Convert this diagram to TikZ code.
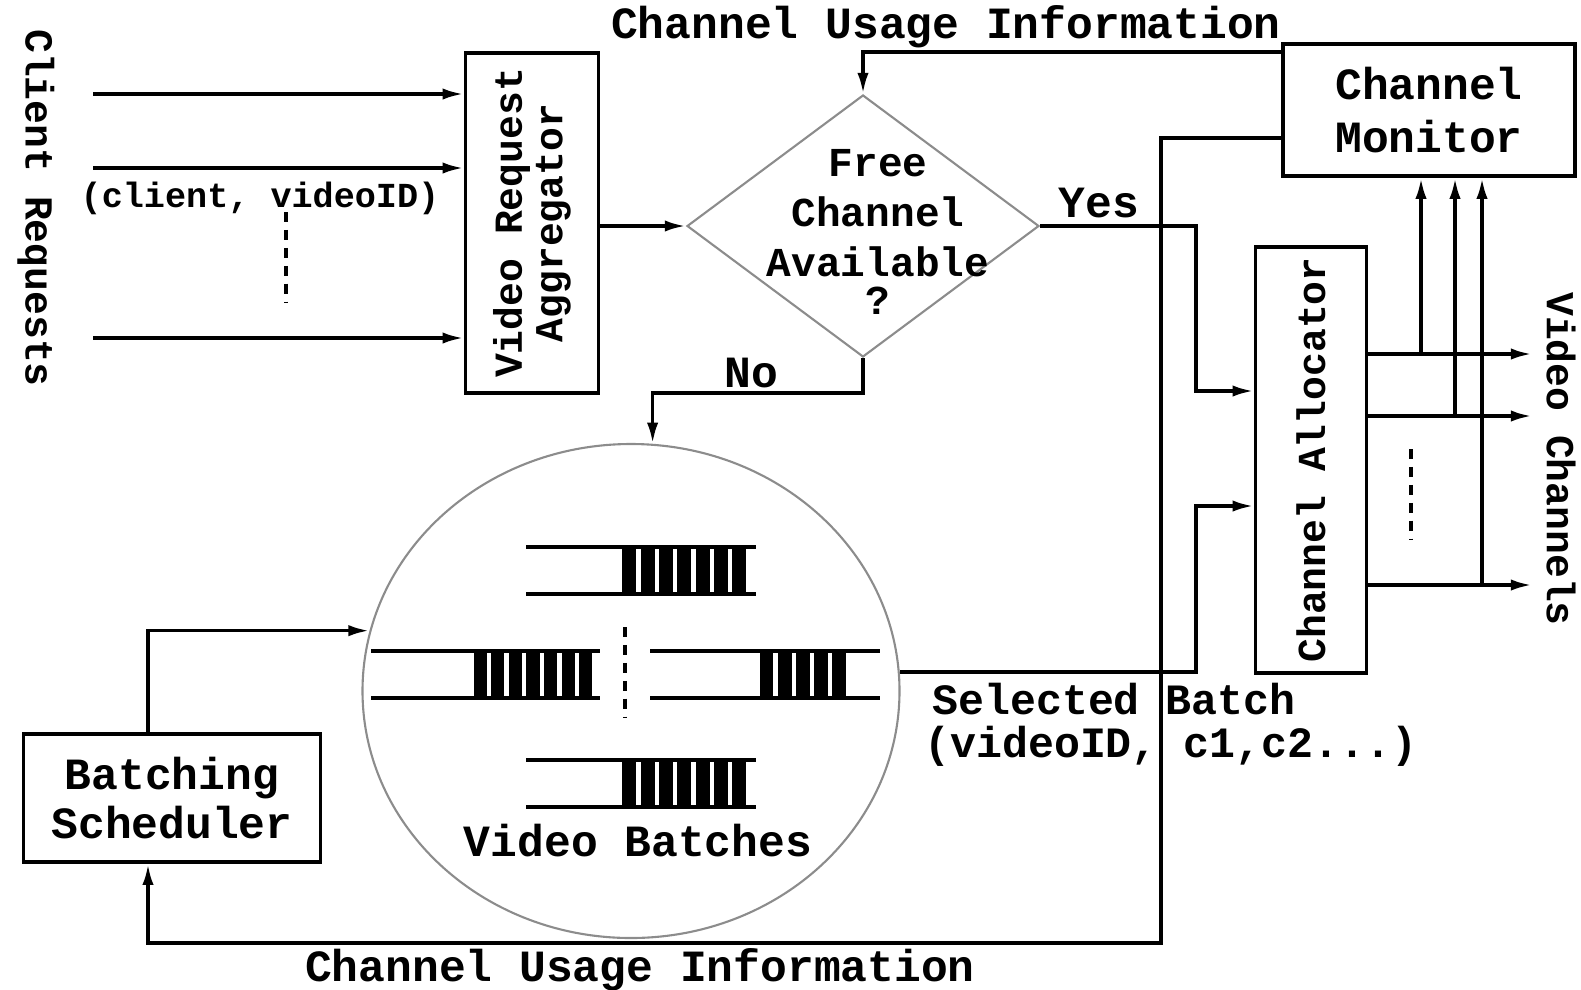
\documentclass[tikz,border=0pt]{standalone}
\usepackage{fontspec}
\setmonofont{Liberation Mono}
\usetikzlibrary{arrows.meta,calc,shapes.geometric}

\tikzset{
  lab/.style={font=\ttfamily\bfseries\fontsize{12.7}{14}\selectfont},
  small/.style={font=\ttfamily\bfseries\fontsize{10}{12}\selectfont},
  sidelab/.style={font=\ttfamily\bfseries\fontsize{11.3}{11.5}\selectfont},
  dialab/.style={font=\ttfamily\bfseries\fontsize{11.7}{14.2}\selectfont},
  blk/.style={draw, line width=1pt, inner sep=0pt},
  gshape/.style={draw=black!45, line width=0.6pt, inner sep=0pt},
  flow/.style={line width=1pt, -{Latex[length=6pt,width=3.2pt]}},
  wire/.style={line width=1pt},
  dots/.style={line width=1.1pt, dash pattern=on 2.8pt off 2.3pt},
}

\begin{document}
\begin{tikzpicture}[x=0.1mm, y=-0.1mm]
    \useasboundingbox (0,0) rectangle (1581,989);

    % Blocks
    \node[blk, minimum width=13.3mm, minimum height=34mm] (vra) at (532,223) {};
    \node[sidelab, rotate=90, align=center] (vratxt) at (vra) {Video Request\\Aggregator};
    \node[diamond, gshape, minimum width=35.2mm, minimum height=26.2mm] (dia) at (863,226) {};
    \node[dialab, align=center] (diatxt) at (878,232) {Free\\Channel\\Available\\[-3.4pt]?};
    \node[blk, lab, align=center, minimum width=29.2mm, minimum height=13.2mm,
          font=\ttfamily\bfseries\fontsize{12.7}{15}\selectfont] (cm) at (1429,110) {Channel\\Monitor};
    \node[blk, minimum width=11.1mm, minimum height=42.6mm] (ca) at (1311,460) {};
    \node[sidelab, rotate=90] (catxt) at (ca) {Channel Allocator};
    \node[blk, lab, align=center, minimum width=29.7mm, minimum height=12.8mm] (bs) at (172,798) {Batching\\Scheduler};
    \node[ellipse, gshape, minimum width=53.7mm, minimum height=49.4mm] (vb) at (631,691) {};

    % Video batches
    \foreach \xl/\xr/\yt/\xs/\nb/\p in {526/756/547/622.4/7/18.3, 371/600/651/473.6/7/17.6,
                                        650/880/651/759.7/5/18.1, 526/756/760/622.4/7/18.3} {
        \draw[wire] (\xl,\yt) -- (\xr,\yt) (\xl,\yt+47) -- (\xr,\yt+47);
        \foreach \k in {1,...,\nb}
            \fill (\xs+\k*\p-\p,\yt) rectangle (\xs+\k*\p-4.4,\yt+47);
    }
    \draw[dots] (625,627) -- (625,717);
    \node[lab] (vbtxt) at (638,841) {Video Batches};

    % Client requests
    \node[sidelab, rotate=-90] (cr) at (36,208) {Client Requests};
    \foreach \y [count=\i] in {94,168,338} {
        \coordinate (cr\i) at (93,\y);
        \draw[flow] (cr\i) -- (cr\i -| vra.west);
    }
    \node[small] (crtxt) at (260,198) {(client, videoID)};
    \draw[dots] (286,212) -- (286,302);
    \draw[flow] (vra.east |- dia.west) -- (dia.west);

    % Decision
    \node[lab] (yes) at (1099,203) {Yes};
    \node[lab] (no) at (751,373) {No};
    \coordinate (yc) at (1196,391);
    \draw[flow] (dia.east) -| (yc) -- (yc -| ca.west);
    \draw[flow] (dia.south) -- ++(0,35) -| (vb.85);

    % Selected batch
    \coordinate (sc) at (1196,506);
    \draw[flow] (vb.4) -| (sc) -- (sc -| ca.west);
    \node[lab, align=left, anchor=west, font=\ttfamily\bfseries\fontsize{12.3}{12.3}\selectfont] (sel) at (912,725)
        {\hspace{0.8mm}Selected Batch\\(videoID, c1,c2...)};
    \coordinate (fb) at (148,943);
    \draw[flow] (bs.north -| fb) |- (vb.167);

    % Channel usage feedback
    \node[lab] (cu1) at (946,27) {Channel Usage Information};
    \draw[flow] ($(cm.north west)+(0,10)$) -| (dia.north);
    \coordinate (fbr) at (1161,943);
    \draw[flow] ($(cm.south west)+(0,-40)$) -| (fbr) -- (fb) -- (bs.south -| fb);
    \node[lab] (cu2) at (640,970) {Channel Usage Information};

    % Video channels
    \foreach \y/\xt [count=\i] in {354/1421, 416/1455, 585/1482} {
        \coordinate (vc\i) at (1532,\y);
        \coordinate (tap\i) at (\xt,\y);
        \draw[flow] (vc\i -| ca.east) -- (vc\i);
        \draw[flow] (tap\i) -- (tap\i |- cm.south);
    }
    \draw[dots] (1411,449) -- (1411,539);
    \node[sidelab, rotate=-90] (vch) at (1561,459) {Video Channels};
\end{tikzpicture}
\end{document}
